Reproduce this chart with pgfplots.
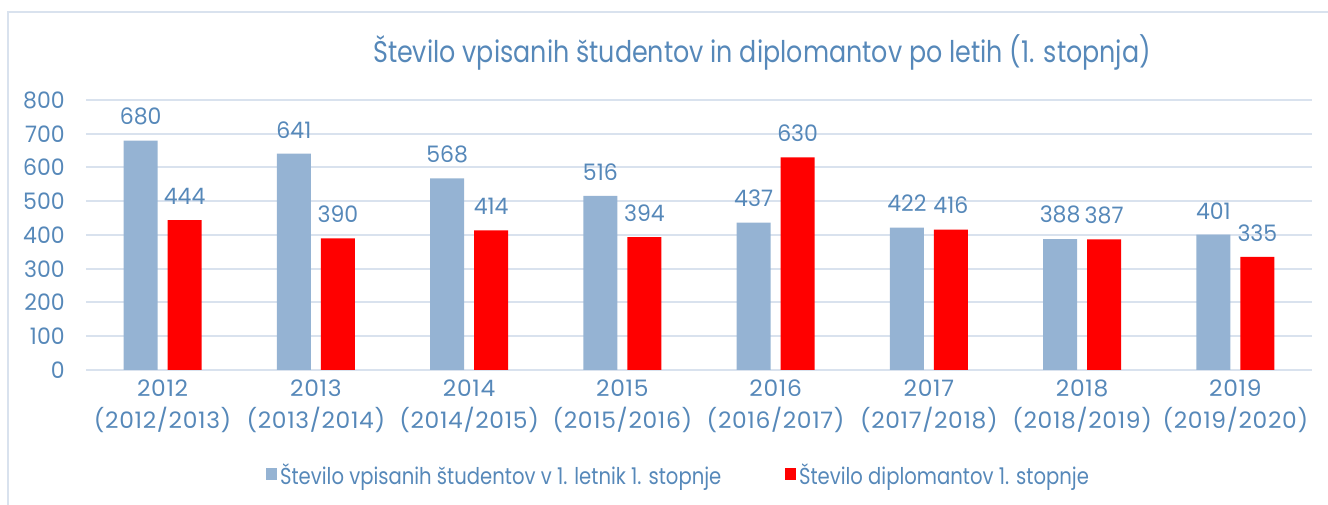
\documentclass[border=0pt]{standalone}
\usepackage{pgfplots}
\pgfplotsset{compat=1.18}
\usepackage{fontspec}
\setmainfont{Poppins}[FakeStretch=0.85]
\newfontfamily\numfont{Poppins}[FakeStretch=0.97]
\newfontfamily\xfont{Poppins}[FakeStretch=1.03, LetterSpace=3]
\definecolor{txt}{RGB}{86,136,185}
\definecolor{barblue}{RGB}{149,179,211}
\definecolor{barred}{RGB}{255,0,0}
\definecolor{gridc}{RGB}{217,226,238}
\begin{document}
\begin{tikzpicture}
\path[use as bounding box] (0pt,0pt) rectangle (996pt,378.75pt);
\draw[gridc, line width=1.5pt] (6pt,0pt) -- (6pt,369.75pt) -- (996pt,369.75pt);
\begin{axis}[
  at={(64.5pt,101.25pt)}, anchor=south west,
  scale only axis, width=919.5pt, height=202.5pt,
  ybar=7.5pt, bar width=25.5pt,
  xmin=-0.5, xmax=7.5, ymin=0, ymax=800,
  xtick={0,...,7},
  xticklabels={{2012\\(2012/2013)},{2013\\(2013/2014)},{2014\\(2014/2015)},{2015\\(2015/2016)},{2016\\(2016/2017)},{2017\\(2017/2018)},{2018\\(2018/2019)},{2019\\(2019/2020)}},
  ytick={0,100,...,800},
  ymajorgrids, grid style={gridc, line width=1.5pt},
  axis line style={draw=none},
  major tick length=0pt,
  /pgf/number format/assume math mode=true,
  yticklabel style={font=\numfont\fontsize{17}{20}\selectfont, text=txt, xshift=-12.5pt},
  xticklabel style={font=\xfont\fontsize{17}{24}\selectfont, text=txt, align=center, yshift=-3.5pt},
  title={Število vpisanih študentov in diplomantov po letih (1. stopnja)},
  title style={at={(0.5514,1.145)}, anchor=center, font=\fontsize{22.4}{26}\selectfont, text=txt},
  nodes near coords,
  every node near coord/.append style={font=\numfont\fontsize{17}{20}\selectfont, text=txt, inner sep=0pt, yshift=11.5pt},
  legend columns=2,
  legend style={at={(0.4837,-0.389)}, anchor=center, draw=none, fill=none,
    font=\fontsize{17.3}{20}\selectfont, text=txt,
    /tikz/every even column/.append style={column sep=46pt},
    nodes={inner xsep=2pt}},
  legend image code/.code={\fill[#1] (0pt,-4pt) rectangle (8.25pt,5pt);},
]
\addplot[fill=barblue, draw=none] coordinates {(0,680) (1,641) (2,568) (3,516) (4,437) (5,422) (6,388) (7,401)};
\addlegendentry{Število vpisanih študentov v 1. letnik 1. stopnje}
\addplot[fill=barred, draw=none] coordinates {(0,444) (1,390) (2,414) (3,394) (4,630) (5,416) (6,387) (7,335)};
\addlegendentry{Število diplomantov 1. stopnje}
\end{axis}
\end{tikzpicture}
\end{document}
